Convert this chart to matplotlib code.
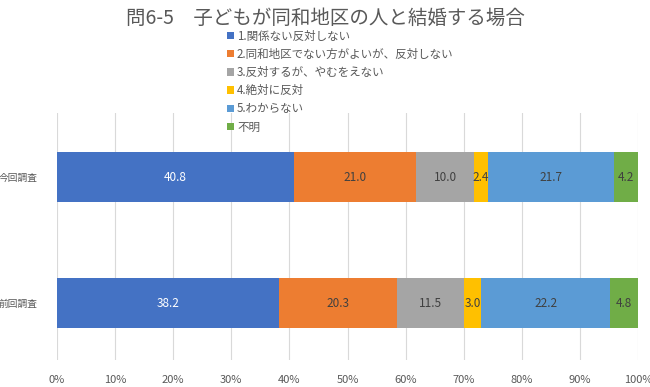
import matplotlib
matplotlib.use("Agg")
import matplotlib.pyplot as plt
import numpy as np

plt.rcParams['font.family'] = ['Noto Sans CJK JP', 'DejaVu Sans']

# ── Data ──────────────────────────────────────────────────────────────────
surveys = ["前回調査", "今回調査"]
series_labels = ["1.関係ない反対しない",
                 "2.同和地区でない方がよいが、反対しない",
                 "3.反対するが、やむをえない",
                 "4.絶対に反対",
                 "5.わからない",
                 "不明"]
values_prev = [38.2, 20.3, 11.5, 3.0, 22.2, 4.8]
values_curr = [40.8, 21.0, 10.0, 2.4, 21.7, 4.2]
colors = ["#4472C4", "#ED7D31", "#A5A5A5", "#FFC000", "#5B9BD5", "#70AD47"]
label_colors = ["white", "#404040", "#404040", "#404040", "#404040", "#404040"]

data = np.array([values_prev, values_curr])

# ── Figure ────────────────────────────────────────────────────────────────
fig = plt.figure(figsize=(6.5, 3.87), dpi=100)
ax = fig.add_axes([57 / 650, 1 - 360 / 387, 581 / 650, 247 / 387])

y = np.arange(len(surveys))
left = np.zeros(len(surveys))
for k in range(len(series_labels)):
    vals = data[:, k]
    ax.barh(y, vals, left=left, height=0.4, color=colors[k],
            label=series_labels[k], zorder=3)
    for j, v in enumerate(vals):
        ax.text(left[j] + v / 2, y[j], f"{v:.1f}", ha="center", va="center",
                fontsize=8.5, color=label_colors[k], zorder=4)
    left += vals

ax.set_xlim(0, 100)
ax.set_ylim(-0.45, 1.51)
ax.set_xticks(np.arange(0, 101, 10))
ax.set_xticklabels([f"{t}%" for t in range(0, 101, 10)], fontsize=8, color="#595959")
ax.set_yticks(y)
ax.set_yticklabels(surveys, fontsize=7, color="#595959")
ax.tick_params(axis="x", length=0, pad=11)
ax.tick_params(axis="y", length=0, pad=14)
ax.grid(axis="x", color="#D9D9D9", linewidth=0.8, zorder=0)
for spine in ax.spines.values():
    spine.set_visible(False)

fig.text(0.5, 1 - 18 / 387, "問6-5　子どもが同和地区の人と結婚する場合",
         ha="center", va="center", fontsize=14, color="#595959")

leg = fig.legend(loc="upper left", bbox_to_anchor=(222 / 650, 1 - 25 / 387),
                 frameon=False, fontsize=8.3, labelcolor="#595959",
                 handlelength=0.6, handleheight=0.6, handletextpad=0.3,
                 labelspacing=0.45, borderaxespad=0)

fig.savefig("out.png", dpi=100)
